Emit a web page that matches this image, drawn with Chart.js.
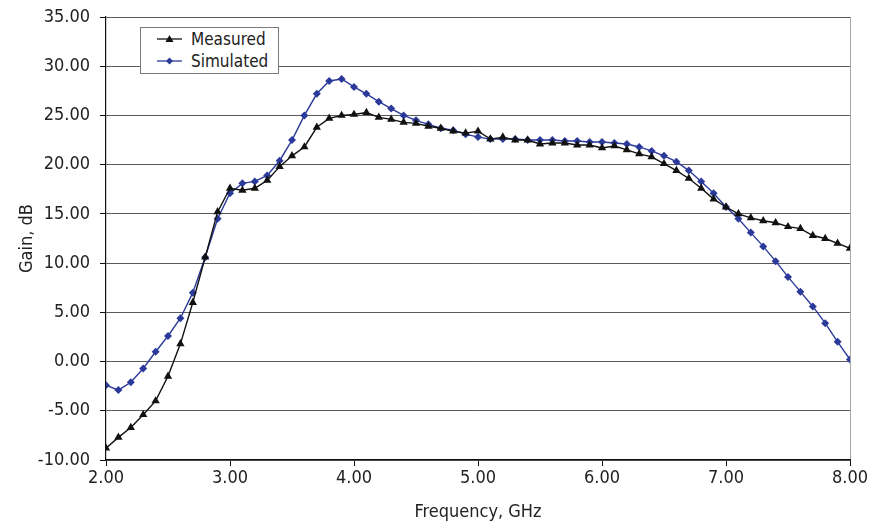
<!DOCTYPE html>
<html>
<head>
<meta charset="utf-8">
<script src="https://cdn.jsdelivr.net/npm/chart.js@4/dist/chart.umd.min.js"></script>
<style>
  html, body { margin: 0; padding: 0; background: #fff; }
  #wrap { position: relative; width: 878px; height: 523px; }
  canvas { display: block; }
  #legend {
    position: absolute; left: 140px; top: 27px; width: 137px; height: 45px;
    background: #fff; border: 1px solid #7a7a7a;
    font-family: "Liberation Sans Narrow", "DejaVu Sans Condensed", sans-serif;
    font-size: 17px; color: #222;
  }
  .item { position: absolute; left: 16px; height: 22px; line-height: 22px; white-space: nowrap; }
  .item svg { position: absolute; left: 0; top: 4px; }
  .item span { position: absolute; left: 34px; top: 0; }
</style>
</head>
<body>
<div id="wrap">
  <canvas id="c" width="878" height="523"></canvas>
  <div id="legend">
    <div class="item" style="top:0px">
      <svg width="26" height="14"><line x1="0" y1="7" x2="25" y2="7" stroke="#111" stroke-width="1.3"/><polygon points="12.5,3 16.5,10 8.5,10" fill="#111"/></svg>
      <span>Measured</span>
    </div>
    <div class="item" style="top:22px">
      <svg width="26" height="14"><line x1="0" y1="7" x2="25" y2="7" stroke="#2B3A9A" stroke-width="1.3"/><polygon points="12.5,3.5 16,7 12.5,10.5 9,7" fill="#2B3A9A"/></svg>
      <span>Simulated</span>
    </div>
  </div>
</div>
<script>
const frequency = [2.0,2.1,2.2,2.3,2.4,2.5,2.6,2.7,2.8,2.9,
  3.0,3.1,3.2,3.3,3.4,3.5,3.6,3.7,3.8,3.9,
  4.0,4.1,4.2,4.3,4.4,4.5,4.6,4.7,4.8,4.9,
  5.0,5.1,5.2,5.3,5.4,5.5,5.6,5.7,5.8,5.9,
  6.0,6.1,6.2,6.3,6.4,6.5,6.6,6.7,6.8,6.9,
  7.0,7.1,7.2,7.3,7.4,7.5,7.6,7.7,7.8,7.9,8.0];

const measured = [-8.8,-7.7,-6.7,-5.4,-4.0,-1.5,1.8,6.0,10.6,15.2,
  17.6,17.4,17.6,18.4,19.8,20.9,21.8,23.8,24.7,25.0,
  25.1,25.3,24.8,24.6,24.3,24.2,23.9,23.7,23.4,23.2,
  23.4,22.6,22.8,22.5,22.5,22.1,22.2,22.2,22.0,22.0,
  21.7,21.9,21.5,21.1,20.8,20.1,19.4,18.6,17.6,16.5,
  15.7,15.0,14.6,14.3,14.1,13.7,13.5,12.8,12.5,12.0,11.5];

const simulated = [-2.4,-2.9,-2.1,-0.7,1.0,2.6,4.4,7.0,10.6,14.5,
  17.1,18.1,18.3,18.9,20.4,22.5,25.0,27.2,28.5,28.7,
  27.9,27.2,26.4,25.7,25.0,24.5,24.1,23.7,23.5,23.1,
  22.8,22.6,22.6,22.6,22.5,22.5,22.5,22.4,22.4,22.3,
  22.3,22.2,22.1,21.8,21.4,20.9,20.3,19.4,18.3,17.1,
  15.7,14.5,13.1,11.7,10.2,8.6,7.1,5.6,3.9,2.0,0.2];

const xTicks = [2,3,4,5,6,7,8];
const yTicks = [-10,-5,0,5,10,15,20,25,30,35];

const FONT = "'Liberation Sans Narrow', 'DejaVu Sans Condensed', sans-serif";
const pts = arr => frequency.map((f, i) => ({x: f, y: arr[i]}));

new Chart(document.getElementById('c'), {
  type: 'line',
  data: {
    datasets: [
      { label: 'Measured', data: pts(measured), borderColor: '#111', backgroundColor: '#111',
        borderWidth: 1.4, pointStyle: 'triangle', pointRadius: 4.8, pointBorderWidth: 0, tension: 0 },
      { label: 'Simulated', data: pts(simulated), borderColor: '#2B3A9A', backgroundColor: '#2B3A9A',
        borderWidth: 1.4, pointStyle: 'rectRot', pointRadius: 4, pointBorderWidth: 0, tension: 0 }
    ]
  },
  options: {
    responsive: false, animation: false,
    layout: { padding: { left: 0, right: 28, top: 17, bottom: 0 } },
    plugins: { legend: { display: false }, tooltip: { enabled: false } },
    scales: {
      x: {
        type: 'linear', min: 2, max: 8,
        afterBuildTicks: s => { s.ticks = xTicks.map(v => ({value: v})); },
        afterFit: s => { s.height = 63; },
        border: { color: '#111', width: 1.2 },
        grid: {
          drawOnChartArea: true, drawTicks: true, tickLength: 6, tickColor: '#111',
          color: c => (c.tick && c.tick.value === 8) ? '#a8a8a8' : 'rgba(0,0,0,0)'
        },
        ticks: { color: '#222', font: { family: FONT, size: 18 }, padding: 2,
                 maxRotation: 0, callback: v => Number(v).toFixed(2) },
        title: { display: true, text: 'Frequency, GHz', color: '#222',
                 font: { family: FONT, size: 18 }, padding: { top: 1, bottom: 0 } }
      },
      y: {
        min: -10, max: 35,
        afterBuildTicks: s => { s.ticks = yTicks.map(v => ({value: v})); },
        afterFit: s => { s.width = 106; s.paddingTop = 0; },
        border: { color: '#111', width: 1.2 },
        grid: { color: '#5a5a5a', lineWidth: 1, tickLength: 6, tickColor: '#111' },
        ticks: { color: '#222', font: { family: FONT, size: 18, lineHeight: 1.0 }, padding: 10,
                 callback: v => Number(v).toFixed(2) },
        title: { display: true, text: 'Gain, dB', color: '#222',
                 font: { family: FONT, size: 18 }, padding: { top: 17, bottom: 0 } }
      }
    }
  }
});
</script>
</body>
</html>
